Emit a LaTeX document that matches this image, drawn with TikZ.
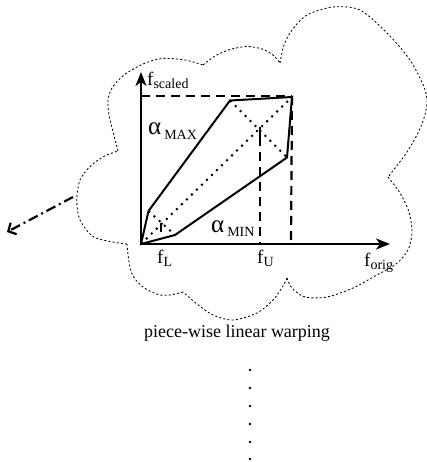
\documentclass[tikz,border=0pt]{standalone}
\usepackage{fontspec}
\setmainfont{Liberation Serif}
\usetikzlibrary{arrows.meta}
\newcommand\lbsub[2][3.5pt]{\raisebox{-#1}{\fontsize{14}{14}\selectfont #2}}
\newcommand\bigalpha{{\fontsize{25}{25}\selectfont α}}
\begin{document}
\begin{tikzpicture}[x=1pt,y=-1pt,
 axisline/.style={line width=2.2pt,-{Stealth[length=14pt,width=11pt,inset=4pt]}},
 polyline/.style={line width=2pt,line join=miter},
 dashline/.style={line width=2.2pt,dash pattern=on 9pt off 6pt},
 dotline/.style={line width=2pt,dash pattern=on 2pt off 5pt},
 tickline/.style={line width=2.2pt},
 cloudline/.style={line width=0.85pt,dash pattern=on 2pt off 2.2pt},
 dashdot/.style={line width=2.2pt,dash pattern=on 10pt off 4pt on 2pt off 4pt,-{Straight Barb[length=6pt,width=13pt]}},
 lbl/.style={inner sep=0pt,anchor=base west,font=\fontsize{19}{19}\selectfont},
 vdot/.style={circle,fill,inner sep=0pt,minimum size=2.8pt}
]
\useasboundingbox (0,0) rectangle (427,462);
% cloud
\draw[cloudline]
 plot[smooth] coordinates {(118,151) (113.3,133) (109,115) (108,100) (112,88) (124,75) (143,64) (162,58.5) (185,60) (203,65)}
 plot[smooth] coordinates {(203,65) (215,56) (230,49.5) (247,46.5) (262,49) (273,55) (280,63)}
 plot[smooth] coordinates {(280,63) (284,45) (292,30) (307,15) (333,7) (360,10) (387,33) (410,60) (424,87) (427,102) (424,118) (417,135) (405,155) (388,177)}
 plot[smooth] coordinates {(388,177) (400,193) (409,212) (412,232) (408,250) (396,264) (375,276) (353,288) (327,297) (305,297) (292,288) (287,278)}
 plot[smooth] coordinates {(287,278) (283,286) (273,300) (257,313) (233,320) (213,315) (197,304) (183,292)}
 plot[smooth] coordinates {(183,292) (170,295) (158,294.5) (143,287) (133,276) (129,262) (127,244)}
 plot[smooth] coordinates {(127,244) (113,242) (93.3,236.7) (80,220) (76.7,200) (80,180) (90,166.7) (103.3,156.7) (118,151)};
% coordinates
\coordinate (O) at (141,244);
\coordinate (Ytip) at (141,72);
\coordinate (Xtip) at (390,244);
\coordinate (P1) at (148.5,211);
\coordinate (P2) at (230,100.5);
\coordinate (P3) at (292,97);
\coordinate (P4) at (287,157.5);
\coordinate (P5) at (175,235);
\coordinate (TL) at (141,96);
\coordinate (TR) at (292,96);
\coordinate (RB) at (291,244);
\coordinate (UT) at (260,127);
\coordinate (UM) at (260,137);
\coordinate (UB) at (260,244);
\coordinate (LT) at (161,223);
\coordinate (LB) at (161,232);
\coordinate (Cs) at (73,197);
\coordinate (Ce) at (7,232);
% dashed guides
\draw[dashline] (TL) -- (TR);
\draw[dashline] (TR) -- (RB);
\draw[dashline] (UM) -- (UB);
\draw[tickline] (UT) -- (UM);
\draw[tickline] (LT) -- (LB);
% dotted
\draw[dotline] (O) -- (P3);
\draw[dotline] (P2) -- (P4);
\draw[dotline] (P1) -- (P5);
% polygon
\draw[polyline] (O) -- (P1) -- (P2) -- (P3) -- (P4) -- (P5) -- cycle;
% axes
\draw[axisline] (O) -- (Ytip);
\draw[axisline] (O) -- (Xtip);
% dash-dot arrow
\draw[dashdot] (Cs) -- (Ce);
% labels
\node[lbl] (fs) at (147,86) {f\lbsub[3pt]{scaled}};
\node[lbl] (amax) at (148,135) {\bigalpha\hspace{3pt}\lbsub[5pt]{MAX}};
\node[lbl] (amin) at (211,232) {\bigalpha\hspace{3pt}\lbsub[4pt]{MIN}};
\node[lbl] (fl) at (157,263) {f\lbsub[3pt]{L}};
\node[lbl] (fu) at (257,263) {f\lbsub[3pt]{U}};
\node[lbl] (fo) at (364,266) {f\lbsub[3pt]{orig}};
\node[inner sep=0pt,anchor=base,font=\fontsize{18}{18}\selectfont] (cap) at (237,337) {piece-wise linear warping};
% vertical dots
\foreach \i/\yy in {1/370,2/388,3/406,4/424,5/442,6/459}
  \node[vdot] (d\i) at (250,\yy) {};
\end{tikzpicture}
\end{document}
